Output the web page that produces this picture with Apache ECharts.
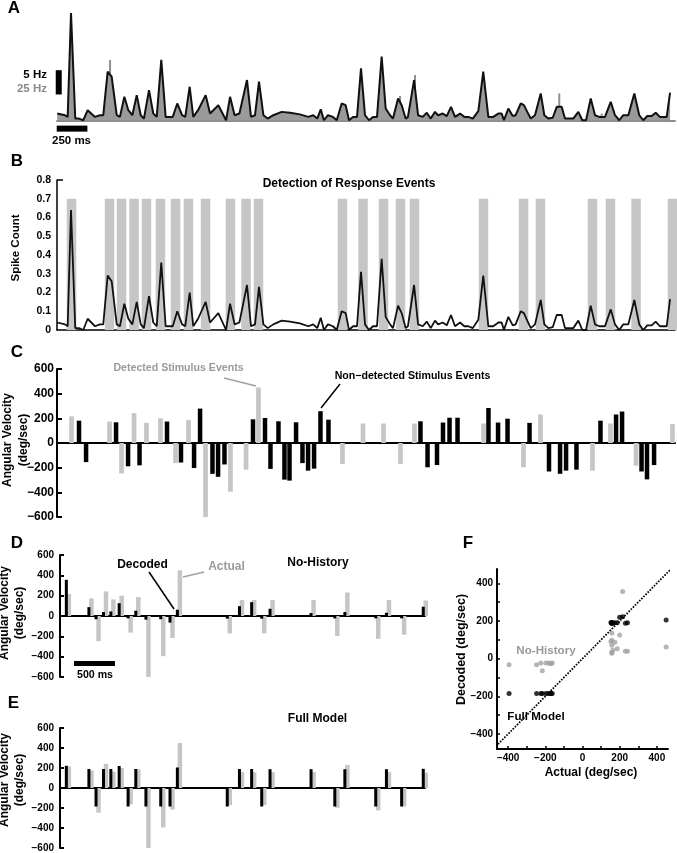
<!DOCTYPE html>
<html><head><meta charset="utf-8">
<script src="https://cdn.jsdelivr.net/npm/echarts@6/dist/echarts.min.js"></script>
<style>html,body{margin:0;padding:0;background:#fff}#c{width:677px;height:853px}</style>
</head><body><div id="c"></div>
<script>
// ================= DATA =================
// times in ms from start of the trace
const rateTimes = [2,60,80,105,137,165,197,230,285,322,347,380,410,448,472,505,535,565,598,628,652,690,722,748,782,815,868,902,938,962,995,1022,1058,1115,1148,1210,1268,1298,1332,1368,1425,1455,1485,1515,1548,1580,1622,1685,1748,1822,1885,1922,1952,1978,2002,2032,2070,2098,2135,2165,2190,2220,2250,2280,2310,2340,2370,2400,2435,2465,2498,2520,2558,2585,2615,2632,2678,2708,2743,2773,2803,2835,2858,2893,2923,2955,2985,3023,3055,3085,3118,3160,3197,3235,3272,3310,3335,3352,3385,3418,3440,3478,3502,3527,3553,3585,3628,3655,3685,3718,3748,3785,3810,3872,3910,3940,3968,4003,4035,4067,4110,4153,4185,4217,4247,4285,4330,4367,4397,4427,4460,4490,4522,4573,4588,4598];
const spikeCount = [0.04,0.03,0.02,0.64,0.01,0.01,0.0,0.06,0.02,0.03,0.03,0.29,0.26,0.03,0.02,0.14,0.06,0.03,0.15,0.03,0.01,0.18,0.04,0.02,0.36,0.02,0.02,0.10,0.03,0.02,0.20,0.02,0.06,0.15,0.04,0.09,0.0,0.14,0.03,0.04,0.24,0.02,0.03,0.23,0.03,0.01,0.03,0.05,0.045,0.035,0.02,0.03,0.01,0.065,0.0,0.03,0.02,0.0,0.10,0.09,0.0,0.02,0.02,0.31,0.03,0.0,0.02,0.02,0.38,0.07,0.03,0.01,0.13,0.09,0.01,0.02,0.24,0.03,0.02,0.045,0.01,0.05,0.03,0.04,0.025,0.08,0.02,0.04,0.02,0.02,0.01,0.055,0.29,0.02,0.02,0.04,0.04,0.0,0.07,0.025,0.03,0.10,0.09,0.05,0.01,0.03,0.16,0.03,0.01,0.015,0.08,0.08,0.01,0.01,0.05,0.0,0.0,0.13,0.03,0.02,0.02,0.11,0.03,0.0,0.03,0.03,0.16,0.03,0.0,0.025,0.025,0.045,0.02,0.02,0.02,0.165];
// extra histogram spikes (25 Hz scale) poking above the rate trace in panel A
const histSpikeTimes = [398,2573,2685,3767,4085];
const histSpikeValues = [0.36,0.145,0.27,0.16,0.04];

// detected stimulus events (grey), shared by panels B-F
const detectedTimes = [109,394,484,578,671,776,889,986,1114,1301,1418,1511,2141,2295,2449,2576,2681,3199,3499,3626,4016,4151,4343,4616];
const actualVelocity = [216,174,-247,242,163,200,-163,187,-600,-395,-216,450,-171,158,158,-171,158,158,-197,231,-224,158,-184,153];
const decodedNoHistory = [356,87,-32,39,45,126,-23,52,-36,-32,-65,62,-26,97,136,-26,71,29,-23,39,-23,32,-23,91];
const decodedFullModel = [222,190,-185,190,190,220,-185,190,-185,-185,-185,205,-185,190,190,-185,188,188,-185,188,-185,188,-185,192];
const responseBandTop = 0.7;

// non-detected stimulus events (black, panel C)
const nonDetectedTimes = [165,218,443,533,619,825,930,1028,1073,1166,1208,1256,1470,1560,1601,1661,1706,1744,1793,1841,1883,1928,1976,2036,2726,2779,2850,2895,2944,3004,3236,3308,3379,3544,3690,3773,3818,3896,4076,4193,4238,4384,4425,4478];
const nonDetectedVelocity = [181,-155,168,-189,-181,174,-158,-203,279,-250,-274,-174,192,203,-210,176,-297,-305,168,-163,-224,-208,258,189,176,-197,-179,166,205,205,284,166,197,163,-231,-250,-224,-216,181,231,255,-231,-295,-179];

// scale bars
const scaleBarA_time = [-2, 228];      // "250 ms"
const scaleBarA_level = -0.05;
const scaleBarA_rate = [13, 0.154, 0.299]; // "5 Hz / 25 Hz"
const scaleBarD_time = [206, 723];     // "500 ms"
const scaleBarD_level = -467;

// tick labels
const velocityTicks = [-600,-400,-200,0,200,400,600];
const spikeTicks = [0,0.1,0.2,0.3,0.4,0.5,0.6,0.7,0.8];
const scatterLabels = [-400,-200,0,200,400];
const scatterTicks = [-400,-300,-200,-100,0,100,200,300,400];
const identityLine = [[-500,-500],[500,500]];

// ================= CHART =================
const FF = '"Liberation Sans", Arial, Helvetica, sans-serif';
const BLACK = '#000', LG = '#c6c6c6', TG = '#9a9a9a';
const minus = v => String(v).replace('-', '\u2212');

function vBars(width, offset, color) {
  return function (params, api) {
    const t = api.value(0), v = api.value(1);
    const a = api.coord([t, 0]), b = api.coord([t, v]);
    return { type: 'rect', shape: { x: a[0] - width / 2 + offset, y: Math.min(a[1], b[1]), width: width, height: Math.abs(a[1] - b[1]) }, style: { fill: color } };
  };
}
function hBar(thick, color) {
  return function (params, api) {
    const a = api.coord([api.value(0), api.value(2)]), b = api.coord([api.value(1), api.value(2)]);
    return { type: 'rect', shape: { x: a[0], y: a[1] - thick / 2, width: b[0] - a[0], height: thick }, style: { fill: color } };
  };
}
function vScaleBar(width, color) {
  return function (params, api) {
    const a = api.coord([api.value(0), api.value(1)]), b = api.coord([api.value(0), api.value(2)]);
    return { type: 'rect', shape: { x: a[0] - width / 2, y: b[1], width: width, height: a[1] - b[1] }, style: { fill: color } };
  };
}
const zip = (a, b) => a.map((x, i) => [x, b[i]]);

const tMaxC = 4635, tMinD = 29, tMaxD = 4638;

const grids = [
  { left: 57, top: 3, width: 618, height: 134 },   // A
  { left: 57, top: 180, width: 618, height: 150 }, // B
  { left: 57, top: 369, width: 618, height: 148 }, // C
  { left: 60, top: 555, width: 365, height: 122 }, // D
  { left: 60, top: 728, width: 365, height: 122 }, // E
  { left: 497, top: 569, width: 171, height: 180 } // F
];

function timeAxis(gi, min, max, lineOpt) {
  return { gridIndex: gi, type: 'value', min: min, max: max,
    axisLine: lineOpt ? Object.assign({ show: true }, lineOpt) : { show: false },
    axisTick: { show: false }, axisLabel: { show: false }, splitLine: { show: false } };
}
function velAxis(gi, fs, margin, tickLen) {
  return { gridIndex: gi, type: 'value', min: -600, max: 600, interval: 200,
    axisLine: { show: true, lineStyle: { color: BLACK, width: 2 } },
    axisTick: { show: true, inside: true, length: tickLen, lineStyle: { color: BLACK, width: 2 } },
    axisLabel: { show: true, margin: margin, fontFamily: FF, fontWeight: 'bold', fontSize: fs, color: BLACK, formatter: minus, customValues: velocityTicks },
    splitLine: { show: false } };
}

const xAxes = [
  timeAxis(0, 0, tMaxC, { onZero: true, lineStyle: { color: '#8c8c8c', width: 2 } }),
  timeAxis(1, 0, tMaxC, { onZero: true, lineStyle: { color: BLACK, width: 1.5 } }),
  timeAxis(2, 0, tMaxC, { onZero: true, lineStyle: { color: BLACK, width: 2 } }),
  timeAxis(3, tMinD, tMaxD, { onZero: true, lineStyle: { color: BLACK, width: 2 } }),
  timeAxis(4, tMinD, tMaxD, { onZero: true, lineStyle: { color: BLACK, width: 2 } }),
  { gridIndex: 5, type: 'value', min: -460, max: 460,
    axisLine: { onZero: false, lineStyle: { color: BLACK, width: 2 } },
    axisTick: { show: true, inside: true, length: 3, customValues: scatterTicks, lineStyle: { color: BLACK, width: 1.5 } },
    axisLabel: { margin: 4, fontFamily: FF, fontWeight: 'bold', fontSize: 10, color: BLACK, customValues: scatterLabels, formatter: minus },
    splitLine: { show: false } }
];
const yAxes = [
  { gridIndex: 0, type: 'value', min: -0.1, max: 0.7, show: false },
  { gridIndex: 1, type: 'value', min: 0, max: 0.8, interval: 0.1,
    axisLine: { show: true, lineStyle: { color: BLACK, width: 1.5 } },
    axisTick: { show: true, inside: true, length: 6, customValues: [0.8], lineStyle: { color: BLACK, width: 1.5 } },
    axisLabel: { margin: 6, fontFamily: FF, fontWeight: 'bold', fontSize: 10.5, color: BLACK, customValues: spikeTicks },
    splitLine: { show: false } },
  velAxis(2, 12, 3, 5),
  velAxis(3, 10, 6, 4),
  velAxis(4, 10, 6, 4),
  { gridIndex: 5, type: 'value', min: -480, max: 476,
    axisLine: { onZero: false, lineStyle: { color: BLACK, width: 2 } },
    axisTick: { show: true, inside: true, length: 3, customValues: scatterTicks, lineStyle: { color: BLACK, width: 1.5 } },
    axisLabel: { margin: 4, fontFamily: FF, fontWeight: 'bold', fontSize: 10, color: BLACK, customValues: scatterLabels, formatter: minus },
    splitLine: { show: false } }
];

const series = [
  // A
  { type: 'custom', xAxisIndex: 0, yAxisIndex: 0, z: 2, clip: false, renderItem: vBars(2, 0, '#8f8f8f'),
    encode: { x: 0, y: 1 }, data: zip(histSpikeTimes, histSpikeValues) },
  { type: 'line', xAxisIndex: 0, yAxisIndex: 0, z: 3, symbol: 'none', data: zip(rateTimes, spikeCount),
    lineStyle: { color: '#111', width: 2 }, areaStyle: { color: '#9a9a9a', opacity: 1, origin: 0 } },
  { type: 'custom', xAxisIndex: 0, yAxisIndex: 0, z: 4, clip: false, renderItem: vScaleBar(6, BLACK),
    encode: { x: 0, y: [1, 2] }, data: [scaleBarA_rate] },
  { type: 'custom', xAxisIndex: 0, yAxisIndex: 0, z: 4, clip: false, renderItem: hBar(6, BLACK),
    encode: { x: [0, 1], y: 2 }, data: [[scaleBarA_time[0], scaleBarA_time[1], scaleBarA_level]] },
  // B
  { type: 'custom', xAxisIndex: 1, yAxisIndex: 1, z: 2, clip: false, renderItem: vBars(9.5, 0, LG),
    encode: { x: 0, y: 1 }, data: detectedTimes.map(t => [t, responseBandTop]) },
  { type: 'line', xAxisIndex: 1, yAxisIndex: 1, z: 3, symbol: 'none', data: zip(rateTimes, spikeCount),
    lineStyle: { color: '#111', width: 1.8 } },
  // C
  { type: 'custom', xAxisIndex: 2, yAxisIndex: 2, z: 2, clip: false, renderItem: vBars(4.7, 0, LG),
    encode: { x: 0, y: 1 }, data: zip(detectedTimes, actualVelocity) },
  { type: 'custom', xAxisIndex: 2, yAxisIndex: 2, z: 3, clip: false, renderItem: vBars(4.5, 0, BLACK),
    encode: { x: 0, y: 1 }, data: zip(nonDetectedTimes, nonDetectedVelocity) },
  // D
  { type: 'custom', xAxisIndex: 3, yAxisIndex: 3, z: 2, clip: false, renderItem: vBars(4.5, 2.5, LG),
    encode: { x: 0, y: 1 }, data: zip(detectedTimes, actualVelocity) },
  { type: 'custom', xAxisIndex: 3, yAxisIndex: 3, z: 3, clip: false, renderItem: vBars(3, 0, BLACK),
    encode: { x: 0, y: 1 }, data: zip(detectedTimes, decodedNoHistory) },
  { type: 'custom', xAxisIndex: 3, yAxisIndex: 3, z: 4, clip: false, renderItem: hBar(5, BLACK),
    encode: { x: [0, 1], y: 2 }, data: [[scaleBarD_time[0], scaleBarD_time[1], scaleBarD_level]] },
  // E
  { type: 'custom', xAxisIndex: 4, yAxisIndex: 4, z: 2, clip: false, renderItem: vBars(4.5, 2.5, LG),
    encode: { x: 0, y: 1 }, data: zip(detectedTimes, actualVelocity) },
  { type: 'custom', xAxisIndex: 4, yAxisIndex: 4, z: 3, clip: false, renderItem: vBars(3, 0, BLACK),
    encode: { x: 0, y: 1 }, data: zip(detectedTimes, decodedFullModel) },
  // F
  { type: 'line', xAxisIndex: 5, yAxisIndex: 5, z: 2, symbol: 'none', clip: true, data: identityLine,
    lineStyle: { color: BLACK, width: 1.8, type: [1.6, 1.4] } },
  { type: 'scatter', xAxisIndex: 5, yAxisIndex: 5, z: 3, clip: true, symbolSize: 5,
    itemStyle: { color: '#a3a3a3' }, data: zip(actualVelocity, decodedNoHistory) },
  { type: 'scatter', xAxisIndex: 5, yAxisIndex: 5, z: 4, clip: true, symbolSize: 5,
    itemStyle: { color: BLACK }, data: zip(actualVelocity, decodedFullModel) }
];

function txt(x, y, text, o) {
  o = o || {};
  return { type: 'text', x: x, y: y, rotation: o.rot || 0, z: 100,
    style: { text: text, fill: o.color || BLACK, font: 'bold ' + (o.size || 12) + 'px ' + FF,
      align: o.align || 'center', verticalAlign: 'middle', lineHeight: o.lh || undefined } };
}
function seg(x1, y1, x2, y2, color) {
  return { type: 'line', z: 100, shape: { x1: x1, y1: y1, x2: x2, y2: y2 }, style: { stroke: color, lineWidth: 1.5 } };
}
const R = Math.PI / 2;
const graphic = [
  txt(14, 8, 'A', { size: 17 }), txt(17, 161, 'B', { size: 17 }), txt(17, 352, 'C', { size: 17 }),
  txt(17, 543, 'D', { size: 17 }), txt(13.5, 703, 'E', { size: 17 }), txt(468, 543, 'F', { size: 17 }),
  txt(47, 75, '5 Hz', { size: 11.5, align: 'right' }),
  txt(47, 89, '25 Hz', { size: 11.5, align: 'right', color: '#8a8a8a' }),
  txt(71.5, 141, '250 ms', { size: 11.5 }),
  txt(16, 248, 'Spike Count', { size: 11.5, rot: R }),
  txt(349, 184, 'Detection of Response Events', { size: 12 }),
  txt(15.5, 440, 'Angular Velocity\n(deg/sec)', { size: 12, rot: R, lh: 16.5 }),
  txt(178.5, 368, 'Detected Stimulus Events', { size: 10.6, color: TG }),
  txt(412.5, 376, 'Non\u2212detected Stimulus Events', { size: 10.6 }),
  seg(224, 378, 256, 386, '#a0a0a0'), seg(321, 408, 340, 384, BLACK),
  txt(12.5, 613, 'Angular Velocity\n(deg/sec)', { size: 12, rot: R, lh: 15 }),
  txt(142.5, 565, 'Decoded', { size: 12 }), seg(149, 572, 174, 609, BLACK),
  txt(226.5, 567, 'Actual', { size: 12, color: TG }), seg(183, 577, 204, 572, '#a0a0a0'),
  txt(318, 563, 'No-History', { size: 12 }),
  txt(95, 675, '500 ms', { size: 10.6 }),
  txt(12.5, 780, 'Angular Velocity\n(deg/sec)', { size: 12, rot: R, lh: 15 }),
  txt(317.5, 719, 'Full Model', { size: 12 }),
  txt(462, 649.5, 'Decoded (deg/sec)', { size: 12.5, rot: R }),
  txt(591, 773, 'Actual (deg/sec)', { size: 12 }),
  txt(546, 651, 'No-History', { size: 11.6, color: TG }),
  txt(536, 717, 'Full Model', { size: 11.6 })
];

const chart = echarts.init(document.getElementById('c'), null, { renderer: 'canvas' });
chart.setOption({ animation: false, backgroundColor: '#fff', grid: grids, xAxis: xAxes, yAxis: yAxes, series: series, graphic: graphic });
</script></body></html>
